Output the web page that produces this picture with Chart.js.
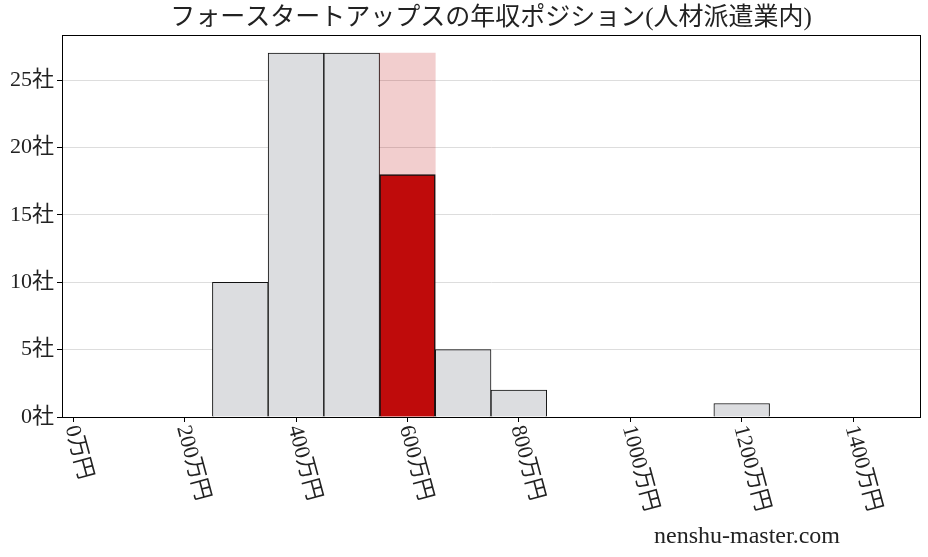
<!DOCTYPE html>
<html>
<head>
<meta charset="utf-8">
<script src="https://cdn.jsdelivr.net/npm/chart.js@4/dist/chart.umd.min.js"></script>
<style>
  html, body { margin: 0; padding: 0; background: #fff; }
  #wrap { width: 928px; height: 557px; }
</style>
</head>
<body>
<div id="wrap"><canvas id="chart" width="928" height="557"></canvas></div>
<script>
const titleText = 'フォースタートアップスの年収ポジション(人材派遣業内)';
const binCenters = [300, 400, 500, 600, 700, 800, 1200];
const binCounts = [10, 27, 27, 27, 5, 2, 1];
const highlightBin = 600;
const highlightCount = 18;
const xTicks = [0, 200, 400, 600, 800, 1000, 1200, 1400];
const yTicks = [0, 5, 10, 15, 20, 25];

const serif = "'Liberation Serif', 'Noto Sans CJK JP', serif";

const gray = '#dcdde0';
const pink = 'rgba(191, 11, 11, 0.2)';
const red = '#bf0b0b';

const histData = binCenters.map((x, i) => ({ x: x, y: binCounts[i] }));
const isHi = binCenters.map(x => x === highlightBin);

const decor = {
  id: 'decor',
  afterDraw(chart) {
    const ctx = chart.ctx;
    const a = chart.chartArea;
    const xs = chart.scales.x;
    ctx.save();
    // frame
    ctx.strokeStyle = '#000';
    ctx.lineWidth = 1;
    ctx.strokeRect(Math.round(a.left) + 0.5, Math.round(a.top) + 0.5,
      Math.round(a.right - a.left), Math.round(a.bottom - a.top));
    // title
    ctx.fillStyle = '#222';
    ctx.font = '25px ' + serif;
    ctx.textAlign = 'center';
    ctx.textBaseline = 'middle';
    ctx.fillText(titleText, (a.left + a.right) / 2, 18);
    // rotated x labels
    ctx.font = '22px ' + serif;
    ctx.textAlign = 'left';
    xTicks.forEach(v => {
      const px = xs.getPixelForValue(v);
      ctx.save();
      ctx.translate(px - 2, a.bottom + 9);
      ctx.rotate(75 * Math.PI / 180);
      ctx.fillText(v + '万円', 0, 0);
      ctx.restore();
    });
    // watermark
    ctx.font = '24px ' + serif;
    ctx.textAlign = 'center';
    ctx.fillText('nenshu-master.com', 747, 537);
    ctx.restore();
  }
};

new Chart(document.getElementById('chart'), {
  type: 'bar',
  data: {
    datasets: [
      {
        label: 'highlight',
        data: [{ x: highlightBin, y: highlightCount }],
        backgroundColor: red,
        borderColor: '#111',
        borderWidth: 1.5,
        grouped: false,
        order: 0
      },
      {
        label: 'all',
        data: histData,
        backgroundColor: isHi.map(h => h ? pink : gray),
        borderColor: '#111',
        borderWidth: isHi.map(h => h ? 0 : 1),
        grouped: false,
        order: 1
      }
    ]
  },
  options: {
    responsive: false,
    animation: false,
    events: [],
    datasets: { bar: { barPercentage: 1, categoryPercentage: 1 } },
    layout: { padding: { top: 35, right: 8, left: 0, bottom: 0 } },
    plugins: { legend: { display: false }, tooltip: { enabled: false } },
    scales: {
      x: {
        type: 'linear',
        offset: false,
        min: -20,
        max: 1520,
        afterBuildTicks(scale) { scale.ticks = xTicks.map(v => ({ value: v })); },
        afterFit(scale) { scale.height = 140; },
        ticks: { display: false },
        grid: { offset: false, drawOnChartArea: false, tickLength: 5, tickColor: '#000' },
        border: { color: '#000' }
      },
      y: {
        min: 0,
        max: 28.35,
        afterBuildTicks(scale) { scale.ticks = yTicks.map(v => ({ value: v })); },
        afterFit(scale) { scale.width = 62; },
        ticks: {
          color: '#222',
          font: { family: serif, size: 22 },
          padding: 3,
          callback: v => v + '社'
        },
        grid: { color: '#dddddd', tickLength: 5, tickColor: '#000' },
        border: { color: '#000' }
      }
    }
  },
  plugins: [decor]
});
</script>
</body>
</html>
